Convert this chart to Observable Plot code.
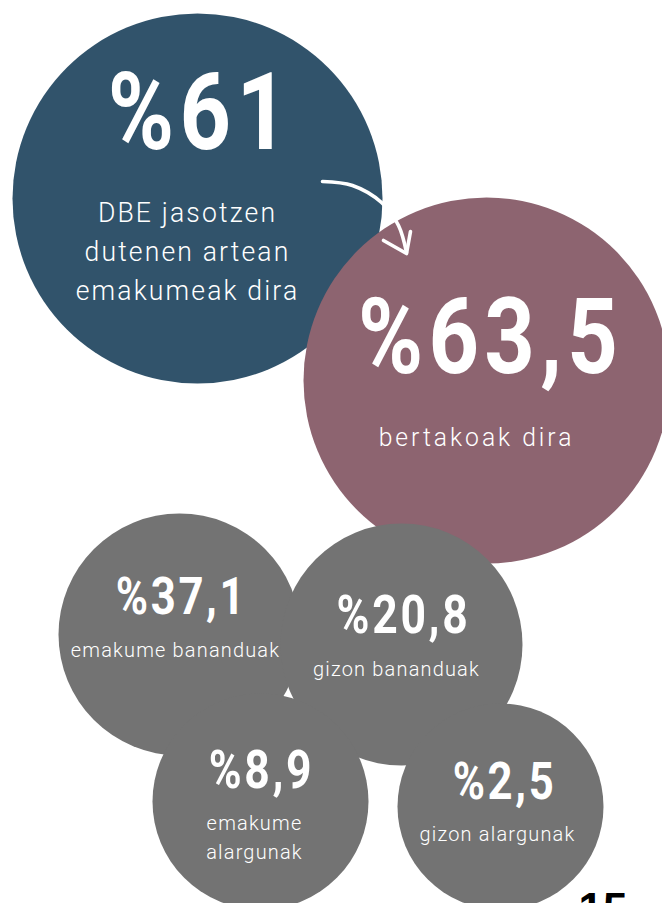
<!DOCTYPE html>
<html>
<head>
<meta charset="utf-8">
<script src="https://cdn.jsdelivr.net/npm/d3@7"></script>
<script src="https://cdn.jsdelivr.net/npm/@observablehq/plot@0.6"></script>
<style>
  html, body { margin: 0; padding: 0; background: #ffffff; overflow: hidden; }
  #chart svg { display: block; }
</style>
</head>
<body>
<div id="chart"></div>
<script>
// ---- chart values ----
const values = [61, 63.5, 37.1, 20.8, 8.9, 2.5];
const captions = [
  "DBE jasotzen\ndutenen artean\nemakumeak dira",
  "bertakoak dira",
  "emakume bananduak",
  "gizon bananduak",
  "emakume\nalargunak",
  "gizon alargunak"
];
const pageNumber = ["15"];

// ---- styling / layout (pixels) ----
const fills   = ["#31536b", "#8d6470", "#737373", "#737373", "#737373", "#737373"];
const circleX = [197, 486, 179, 401, 260, 500];
const circleY = [198, 380, 634, 644, 801, 806];
const circleR = [185, 183, 121, 121, 108, 103];
const numX    = [200, 490, 181, 403, 261, 504];
const numY    = [148, 372, 613, 632, 787, 798];
const numSize = [107, 105, 52, 53, 53, 52];
const capX    = [187, 476, 175, 396, 254, 497];
const capY    = [299, 445, 656, 675, 858, 840];
const capSize = [28, 26, 21, 21, 21, 21];
const capSpacing = ["0.08em", "0.12em", "0.06em", "0.06em", "0.06em", "0.06em"];
const arrowBody = [[322, 181], [352, 185], [381, 202], [398, 225], [406, 252]];
const arrowHead = [[383, 240], [406, 253], [410, 231]];

const fmt = v => "%" + String(v).replace(".", ",");

const items = values.map((v, i) => ({
  label: fmt(v), caption: captions[i], fill: fills[i],
  cx: circleX[i], cy: circleY[i], r: circleR[i],
  nx: numX[i], ny: numY[i], ns: numSize[i],
  tx: capX[i], ty: capY[i], ts: capSize[i]
}));
const top2 = items.slice(0, 2);
const grays = items.slice(2);

const W = 662, H = 903;
const plot = Plot.plot({
  width: W, height: H,
  margin: 0,
  x: {domain: [0, W], range: [0, W], axis: null},
  y: {domain: [0, H], range: [0, H], axis: null},
  r: {type: "identity"},
  marks: [
    Plot.dot(top2, {x: "cx", y: "cy", r: "r", fill: "fill"}),
    Plot.line(arrowBody, {x: d => d[0], y: d => d[1], curve: "catmull-rom", stroke: "white", strokeWidth: 3.6, strokeLinecap: "round"}),
    Plot.line(arrowHead, {x: d => d[0], y: d => d[1], curve: "linear", stroke: "white", strokeWidth: 3.6, strokeLinecap: "round", strokeLinejoin: "round"}),
    Plot.dot(grays, {x: "cx", y: "cy", r: "r", fill: "fill"}),
    Plot.text(items, {x: "nx", y: "ny", text: "label", fontSize: "ns", fill: "white",
      fontFamily: "Roboto", fontWeight: 700, textAnchor: "middle", lineAnchor: "bottom"}),
    Plot.text(items, {x: "tx", y: "ty", text: "caption", fontSize: "ts", fill: "white",
      fontFamily: "Roboto", fontWeight: 300, textAnchor: "middle", lineAnchor: "bottom", lineHeight: 1.38}),
    Plot.text(pageNumber, {x: () => 578, y: () => 923, text: d => d, fontSize: 44, fill: "black",
      fontFamily: "Liberation Sans", fontWeight: 700, textAnchor: "start", lineAnchor: "bottom"})
  ]
});

document.getElementById("chart").appendChild(plot);

// condense the text horizontally and add letter spacing
function condense(el, sx, ls) {
  el.style("letter-spacing", ls);
  const t = el.attr("transform");
  if (t) {
    el.attr("transform", t + ` scale(${sx},1)`);
  } else {
    const x = +el.attr("x") || 0, y = +el.attr("y") || 0;
    el.attr("x", null).attr("y", null).attr("transform", `translate(${x},${y}) scale(${sx},1)`);
  }
}
const numIndex = new Map(items.map((d, i) => [d.label, i]));
const capIndex = new Map(captions.map((c, i) => [c.replace(/\n/g, ""), i]));
d3.select(plot).selectAll("text").each(function () {
  const s = this.textContent;
  if (numIndex.has(s)) condense(d3.select(this), 0.84, "0.06em");
  else if (capIndex.has(s)) condense(d3.select(this), 0.95, capSpacing[capIndex.get(s)]);
});
</script>
</body>
</html>
